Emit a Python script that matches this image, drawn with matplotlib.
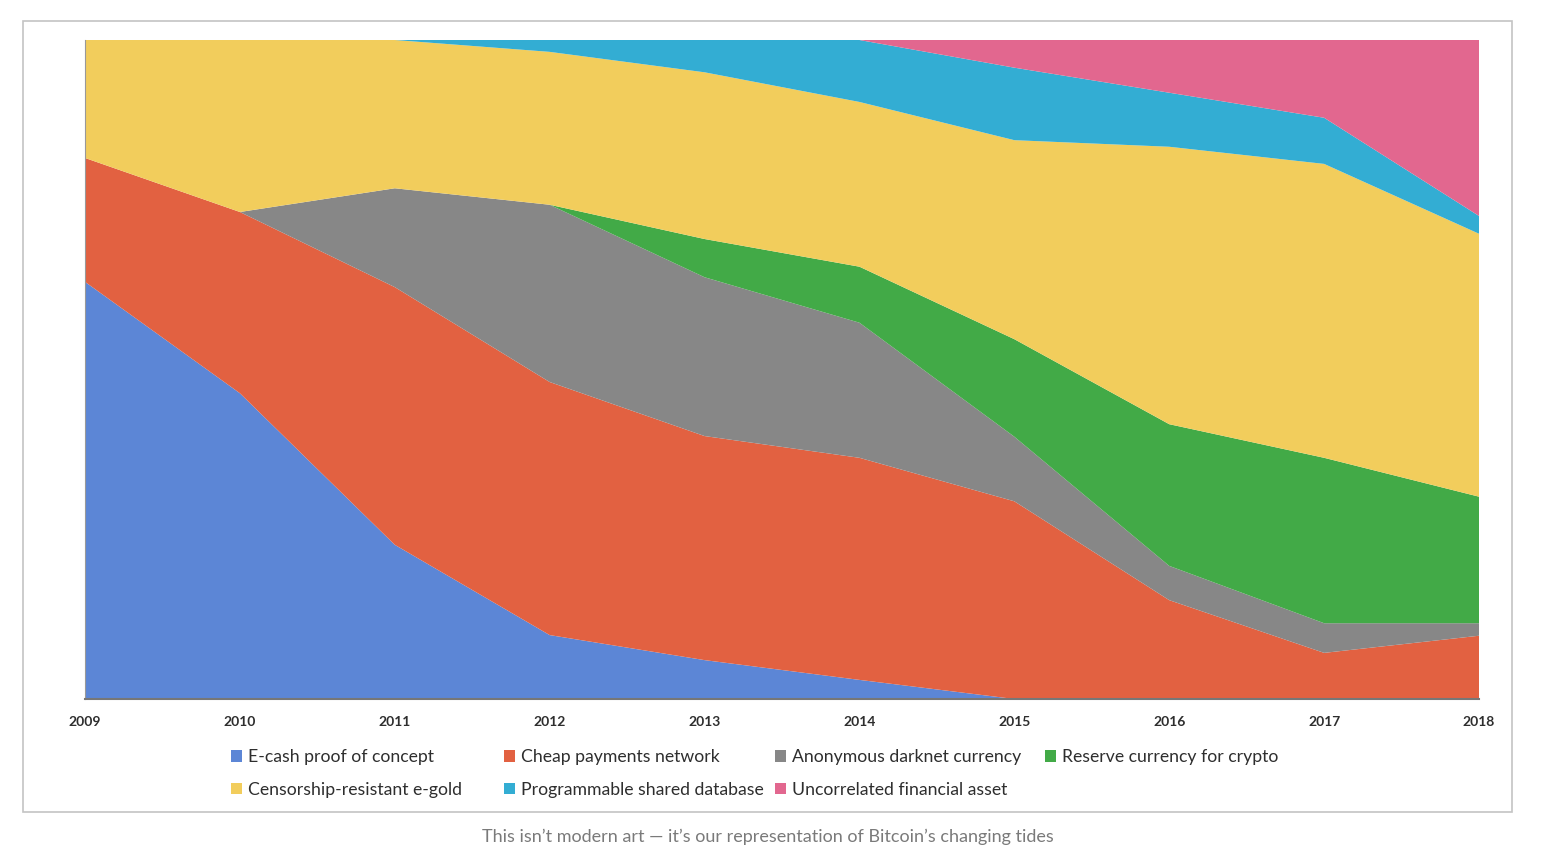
import numpy as np
import matplotlib.pyplot as plt
from matplotlib.patches import Rectangle, Patch

plt.rcParams['font.family'] = ['Lato', 'DejaVu Sans']

years = [2009, 2010, 2011, 2012, 2013, 2014, 2015, 2016, 2017, 2018]

# share of each narrative, percent
ecash = [63.3, 46.4, 23.4, 9.7, 5.9, 2.9, 0.0, 0.0, 0.0, 0.0]
payments = [18.8, 27.5, 39.1, 38.4, 34.0, 33.7, 30.0, 15.0, 7.0, 9.6]
darknet = [0.0, 0.0, 15.0, 26.9, 24.1, 20.5, 9.8, 5.2, 4.5, 1.9]
reserve = [0.0, 0.0, 0.0, 0.0, 5.8, 8.5, 14.8, 21.5, 25.1, 19.2]
egold = [17.9, 26.1, 22.5, 23.2, 25.3, 25.0, 30.2, 42.1, 44.6, 39.9]
database = [0.0, 0.0, 0.0, 1.8, 4.9, 9.4, 11.0, 8.2, 7.0, 2.7]
uncorrelated = [0.0, 0.0, 0.0, 0.0, 0.0, 0.0, 4.2, 8.0, 11.8, 26.7]

labels = ['E-cash proof of concept', 'Cheap payments network',
          'Anonymous darknet currency', 'Reserve currency for crypto',
          'Censorship-resistant e-gold', 'Programmable shared database',
          'Uncorrelated financial asset']
colors = ['#5C86D6', '#E26141', '#878787', '#42AA47', '#F2CD5C', '#33ADD3', '#E2678F']

series = [ecash, payments, darknet, reserve, egold, database, uncorrelated]

W, H = 1542, 857
fig = plt.figure(figsize=(W / 100, H / 100), dpi=100)
fig.patch.set_facecolor('white')

# light frame around the chart
fig.patches.append(Rectangle((23 / W, 1 - 812 / H), (1512 - 23) / W, (812 - 21) / H,
                             transform=fig.transFigure, fill=False,
                             edgecolor='#C4C4C4', linewidth=1.2))

ax = fig.add_axes([85 / W, 1 - 699 / H, (1479 - 85) / W, (699 - 40) / H])
ax.stackplot(years, *series, colors=colors, labels=labels, linewidth=0)
ax.set_xlim(2009, 2018)
ax.set_ylim(0, 100)
ax.set_xticks(years)
ax.set_xticklabels([str(y) for y in years], fontsize=10, color='#2E2E2E',
                   fontweight='bold')
ax.tick_params(axis='x', length=0, pad=12)
ax.set_yticks([])
for side in ['top', 'right']:
    ax.spines[side].set_visible(False)
ax.spines['left'].set_color('#999999')
ax.spines['bottom'].set_color('#777777')
ax.spines['bottom'].set_linewidth(1.5)

# legend: Excel-style columns, each its own little legend
columns = [[0, 4], [1, 5], [2, 6], [3]]
col_x = [231, 504, 775, 1045]
for idx, x in zip(columns, col_x):
    handles = [Patch(facecolor=colors[i], edgecolor='none') for i in idx]
    yc = 773.5 if len(idx) == 2 else 757
    fig.legend(handles, [labels[i] for i in idx], frameon=False,
               loc='center left', bbox_to_anchor=(x / W, 1 - yc / H),
               fontsize=12.7, handlelength=0.62, handleheight=0.62,
               handletextpad=0.35, labelspacing=0.95, borderpad=0,
               borderaxespad=0, labelcolor='#2E2E2E')

fig.text(767.5 / W, 1 - 837 / H,
         'This isn\u2019t modern art \u2014 it\u2019s our representation of Bitcoin\u2019s changing tides',
         ha='center', va='center', fontsize=13, color='#7A7A7A')

fig.savefig('out.png', dpi=100, facecolor='white')
